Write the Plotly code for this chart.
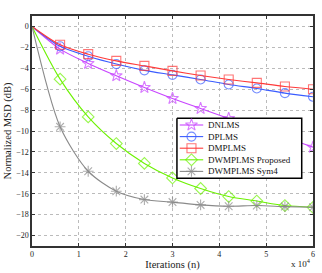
import plotly.graph_objects as go

iterations = [0, 6000, 12000, 18000, 24000, 30000, 36000, 42000, 48000, 54000, 60000]

dnlms = [0, -2.17, -3.54, -4.72, -5.84, -6.89, -7.85, -8.8, -9.7, -10.6, -11.55]
dplms = [0, -1.9, -2.85, -3.6, -4.2, -4.63, -5.07, -5.55, -5.93, -6.38, -6.73]
dmplms = [0, -1.75, -2.65, -3.29, -3.77, -4.25, -4.69, -5.07, -5.4, -5.74, -6.0]
dwmplms_prop = [0, -5.04, -8.65, -11.2, -13.1, -14.49, -15.5, -16.27, -16.7, -17.13, -17.3]
dwmplms_sym4 = [0, -9.6, -13.85, -15.76, -16.56, -16.8, -17.07, -17.2, -17.13, -17.23, -17.3]

names = ["DNLMS", "DPLMS", "DMPLMS", "DWMPLMS Proposed", "DWMPLMS Sym4"]
colors = ["#C845FF", "#3A5CFF", "#FF3A3A", "#6CF200", "#8A8A8A"]
symbols = ["star-open", "circle-open", "square-open", "diamond-open", "asterisk-open"]
series = [dnlms, dplms, dmplms, dwmplms_prop, dwmplms_sym4]

xtick_vals = [0, 10000, 20000, 30000, 40000, 50000, 60000]
xtick_text = ["0", "1", "2", "3", "4", "5", "6"]
ytick_vals = list(range(-20, 1, 2))

W, H = 322, 273
ML, MR, MT, MB = 31.5, 9, 16, 27
font = "Liberation Serif, Times New Roman, serif"

fig = go.Figure()
for name, col, sym, ys in zip(names, colors, symbols, series):
    sizes = [0] + [9] * (len(iterations) - 1)
    fig.add_trace(go.Scatter(
        x=iterations, y=ys, name=name, mode="lines+markers", showlegend=False,
        line=dict(color=col, width=1.1, shape="spline", smoothing=0.8),
        marker=dict(symbol=sym, size=sizes, color=col, line=dict(color=col, width=1.1)),
    ))

# ---- custom legend drawn in a pixel-coordinate overlay axis (above the data) ----
box_l, box_r, box_t, box_b = 176.7, 301.7, 118.3, 178.3
row_y0, row_dy = 125.0, 11.6
samp_l, samp_r = 179.5, 203.0
fig.add_trace(go.Scatter(
    x=[box_l, box_r, box_r, box_l, box_l], y=[box_t, box_t, box_b, box_b, box_t],
    xaxis="x2", yaxis="y2", mode="lines", fill="toself", fillcolor="white",
    line=dict(color="black", width=1.5), showlegend=False, hoverinfo="skip",
))
for i, (name, col, sym) in enumerate(zip(names, colors, symbols)):
    yy = row_y0 + i * row_dy
    fig.add_trace(go.Scatter(
        x=[samp_l, (samp_l + samp_r) / 2, samp_r], y=[yy, yy, yy], xaxis="x2", yaxis="y2",
        mode="lines+markers", showlegend=False, hoverinfo="skip",
        line=dict(color=col, width=1.1),
        marker=dict(symbol=sym, size=[0, 9, 0], color=col, line=dict(color=col, width=1.1)),
    ))
    fig.add_annotation(text=name, xref="x2", yref="y2", x=samp_r + 2.5, y=yy,
                       xanchor="left", yanchor="middle", showarrow=False,
                       font=dict(family=font, size=9, color="#111"))

axis_common = dict(
    showline=True, linecolor="#333", linewidth=1.5, mirror="ticks",
    ticks="inside", ticklen=3, tickcolor="#333",
    showgrid=True, gridcolor="#bbbbbb", griddash="dot", gridwidth=1,
    zeroline=False, tickfont=dict(family=font, size=8, color="#222"), automargin=False,
)
fig.update_xaxes(range=[0, 60000], tickvals=xtick_vals, ticktext=xtick_text,
                 title=dict(text="Iterations (n)", font=dict(family=font, size=10.5, color="#222"), standoff=2),
                 **axis_common)
fig.update_yaxes(range=[-21, 1], tickvals=ytick_vals,
                 title=dict(text="Normalized MSD (dB)", font=dict(family=font, size=10.5, color="#222"), standoff=2),
                 **axis_common)

fig.add_annotation(text="x 10<sup>4</sup>", xref="paper", yref="paper", x=1.0, y=-0.075,
                   xanchor="right", yanchor="middle", showarrow=False,
                   font=dict(family=font, size=9, color="#222"))

fig.update_layout(
    width=W, height=H,
    margin=dict(l=ML, r=MR, t=MT, b=MB),
    plot_bgcolor="white", paper_bgcolor="white",
    xaxis2=dict(overlaying="x", range=[ML, W - MR], visible=False, fixedrange=True),
    yaxis2=dict(overlaying="y", range=[H - MB, MT], visible=False, fixedrange=True),
    showlegend=False,
)

fig.write_html("out.html", config={"displayModeBar": False},
               post_script="document.body.style.margin='0';")
